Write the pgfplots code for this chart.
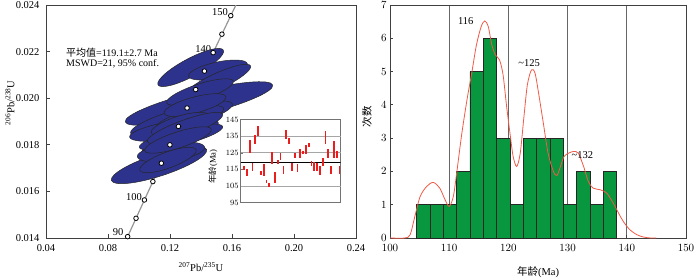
\documentclass[border=0pt]{standalone}
\usepackage{fontspec}
\setmainfont{Liberation Serif}
\newfontfamily\cjk{Noto Sans CJK SC}
\usepackage{pgfplots}
\pgfplotsset{compat=1.18}
\definecolor{ellblue}{RGB}{45,50,140}
\definecolor{histgreen}{RGB}{8,150,62}
\definecolor{pdfred}{RGB}{240,90,70}
\definecolor{barred}{RGB}{235,30,30}
\definecolor{concgray}{RGB}{150,150,150}

\pgfdeclareplotmark{ellmark}{%
  \pgfmathsetmacro\ellax{\ea*cos(\eang)}%
  \pgfmathsetmacro\ellay{\ea*sin(\eang)}%
  \pgfmathsetmacro\ellbx{-\eb*sin(\eang)}%
  \pgfmathsetmacro\ellby{\eb*cos(\eang)}%
  \pgfpathellipse{\pgfpointorigin}{\pgfpoint{\ellax pt}{\ellay pt}}{\pgfpoint{\ellbx pt}{\ellby pt}}%
  \pgfusepathqfillstroke}

\pgfplotsset{
  every tick label/.append style={font=\fontsize{10.5}{12}\selectfont},
  every axis label/.append style={font=\fontsize{10.5}{12}\selectfont},
}

\begin{document}
\begin{tikzpicture}[x=1pt,y=1pt]
\path[use as bounding box] (0,0) rectangle (700,277);

% ---------------- left: concordia ----------------
\begin{axis}[
  at={(46pt,39pt)}, anchor=south west, scale only axis,
  width=310pt, height=233pt,
  xmin=0.04, xmax=0.24, ymin=0.014, ymax=0.024,
  xtick={0.04,0.08,0.12,0.16,0.20,0.24},
  xticklabels={0.04,0.08,0.12,0.16,0.20,0.24},
  ytick={0.014,0.016,0.018,0.020,0.022,0.024},
  yticklabels={0.014,0.016,0.018,0.020,0.022,0.024},
  scaled ticks=false,
  tick pos=left, tick align=inside, major tick length=4pt,
  axis line style={draw=black!75, line width=0.8pt},
  tick style={draw=black!75, line width=0.8pt},
  xticklabel style={yshift=-3pt},
  yticklabel style={xshift=-3pt},
  xlabel={\textsuperscript{207}Pb/\textsuperscript{235}U},
  ylabel={\textsuperscript{206}Pb/\textsuperscript{238}U},
  xlabel style={at={(axis description cs:0.5,-0.124)}, anchor=center},
  ylabel style={at={(axis description cs:-0.116,0.58)}, anchor=center},
]
% error ellipses
\addplot[only marks, mark=ellmark,
  mark options={fill=ellblue, draw=black!85, line width=0.5pt},
  visualization depends on={value \thisrow{a}\as\ea},
  visualization depends on={value \thisrow{b}\as\eb},
  visualization depends on={value \thisrow{ang}\as\eang},
] table {
x y a b ang
0.13871 0.019773 76 12 14
0.11290 0.017133 50 11 18
0.12742 0.019129 53 10 16
0.13335 0.021318 37 9 28
0.15097 0.021210 30 8 12
0.15032 0.020717 37 8 25
0.12548 0.018249 39 9 21
0.12065 0.017691 34 9 8
0.12258 0.018635 45 9 9
0.12710 0.018335 43 8 14
0.13290 0.019150 35 8 16
0.13935 0.020266 35 8 18
0.13613 0.019708 32 8 15
0.11871 0.017348 30 8 20
0.12645 0.018893 30 8 17
0.12968 0.018721 40 8 20
0.12516 0.018206 35 8 18
};
% concordia curve
\addplot[concgray, line width=1.2pt] coordinates {
(0.087316,0.013273) (0.092683,0.014059) (0.098077,0.014846) (0.103498,0.015633)
(0.108945,0.016422) (0.114419,0.017210) (0.119921,0.017999) (0.125449,0.018789)
(0.131005,0.019580) (0.136588,0.020371) (0.142198,0.021163) (0.147837,0.021955)
(0.153503,0.022748) (0.159197,0.023542) (0.164981,0.024336)
};
\addplot[only marks, mark=*, mark size=2.3pt,
  mark options={fill=white, draw=black, line width=0.8pt}] coordinates {
(0.092683,0.014059) (0.098077,0.014846) (0.103498,0.015633)
(0.108945,0.016422) (0.114419,0.017210) (0.119921,0.017999) (0.125449,0.018789)
(0.131005,0.019580) (0.136588,0.020371) (0.142198,0.021163) (0.147837,0.021955)
(0.153503,0.022748) (0.159197,0.023542)
};
\node[font=\fontsize{10.5}{12}\selectfont] at (axis cs:0.0865,0.01426) {90};
\node[font=\fontsize{10.5}{12}\selectfont] at (axis cs:0.0968,0.01576) {100};
\node[font=\fontsize{10.5}{12}\selectfont, text=white] at (axis cs:0.1075,0.01751) {110};
\node[font=\fontsize{10.5}{12}\selectfont, text=white] at (axis cs:0.1187,0.01894) {120};
\node[font=\fontsize{10.5}{12}\selectfont, text=white] at (axis cs:0.1286,0.02065) {130};
\node[font=\fontsize{10.5}{12}\selectfont] at (axis cs:0.1415,0.02212) {140};
\node[font=\fontsize{10.5}{12}\selectfont] at (axis cs:0.1523,0.02369) {150};
\node[anchor=west, inner sep=0pt, font=\fontsize{10}{12}\selectfont] at (axis cs:0.0529,0.021953) {{\cjk 平均值}=119.1±2.7 Ma};
\node[anchor=west, inner sep=0pt, font=\fontsize{10}{12}\selectfont] at (axis cs:0.0529,0.021498) {MSWD=21, 95\% conf.};
\end{axis}

% ---------------- inset ----------------
\begin{axis}[
  at={(240.7pt,74.5pt)}, anchor=south west, scale only axis,
  width=100pt, height=83pt,
  xmin=-0.2, xmax=35.4, ymin=95, ymax=145,
  xtick=\empty,
  ytick={95,105,...,145},
  extra y ticks={105,125,135}, extra y tick labels={},
  extra y tick style={ymajorgrids=true, major tick length=0pt},
  grid style={draw=black!35, line width=0.6pt},
  tick pos=left, tick align=inside, major tick length=2pt,
  axis background/.style={fill=white},
  axis line style={draw=black!55, line width=0.6pt},
  tick style={draw=black!55},
  yticklabel style={font=\fontsize{8.5}{10}\selectfont, xshift=1.5pt},
  ylabel={{\cjk 年龄}(Ma)},
  ylabel style={font=\fontsize{8.5}{10}\selectfont, at={(axis description cs:-0.277,0.43)}, anchor=center},
]
\addplot[black, line width=1.2pt] coordinates {(-0.2,119.1) (35.4,119.1)};
\addplot[draw=none, mark=none,
  error bars/.cd, y dir=both, y explicit, error mark=none,
  error bar style={draw=barred, line width=1.8pt, line cap=butt}]
  table[x=x, y=y, y error=e] {
x y e
1 115.6 1.2
2 112.95 2.25
3 128.9 3.9
4 116.35 2.15
5 132.85 2.75
6 138.05 2.85
7 112.75 1.45
8 114.7 3.6
9 107.65 1.05
10 105.8 1.2
11 121.85 3.55
12 110.0 3.4
13 119.2 1.3
14 122.75 1.85
15 114.45 2.35
16 136.05 2.85
17 131.85 1.75
18 116.55 2.35
19 123.45 1.55
20 115.75 2.55
21 124.45 2.55
22 125.0 1.0
23 126.75 2.75
24 129.9 1.2
25 118.55 1.35
26 116.75 2.55
27 116.55 2.35
28 114.25 2.55
29 119.35 2.55
30 134.2 4.1
31 124.65 2.75
32 114.55 2.25
33 127.0 5.1
34 123.95 2.05
35 114.55 2.25
};
\end{axis}

% ---------------- right: histogram ----------------
\begin{axis}[
  at={(390pt,39pt)}, anchor=south west, scale only axis,
  width=296pt, height=233pt,
  xmin=100, xmax=150, ymin=0, ymax=7,
  xtick={100,110,...,150}, ytick={0,1,...,7},
  xmajorgrids, grid style={draw=black!60, line width=0.8pt},
  tick pos=left, tick align=inside, major tick length=3pt,
  axis line style={draw=black!75, line width=0.8pt},
  tick style={draw=black!75, line width=0.8pt},
  xticklabel style={yshift=-3pt},
  xlabel={{\cjk 年龄}(Ma)},
  ylabel={\cjk 次数},
  xlabel style={at={(axis description cs:0.5,-0.145)}, anchor=center},
  ylabel style={at={(axis description cs:-0.078,0.52)}, anchor=center},
]
\addplot[ybar interval, fill=histgreen, draw=black!85, line width=0.6pt] coordinates {
(104.5,1) (106.75,1) (109,1) (111.25,2) (113.5,5) (115.75,6) (118,3) (120.25,1)
(122.5,3) (124.75,3) (127,3) (129.25,1) (131.5,2) (133.75,1) (136,2) (138.25,2)
};
\addplot[smooth, pdfred, line width=0.8pt] coordinates {
(100,0) (102.5,0) (103.4,0.1) (104.2,0.65) (105.1,1.25) (106.2,1.55) (107.3,1.67)
(108.4,1.5) (109.3,1.15) (110.0,0.95) (110.7,1.25) (111.3,2.0) (112.1,3.1) (113.0,4.15)
(113.8,4.95) (114.6,5.8) (115.4,6.35) (116.0,6.52) (116.6,6.35) (117.2,5.8) (117.8,5.5)
(118.5,5.35) (119.1,4.9) (119.7,3.95) (120.3,3.1) (120.8,2.45) (121.4,2.15) (122.0,2.55)
(122.6,3.6) (123.2,4.6) (123.9,5.05) (124.5,4.95) (125.1,4.35) (125.9,3.45) (126.7,2.55)
(127.6,2.0) (128.2,1.88) (128.8,2.15) (129.4,2.45) (130.2,2.55) (131.0,2.6) (131.8,2.55)
(132.7,2.15) (133.5,1.7) (134.3,1.5) (135.5,1.45) (136.6,1.35) (137.7,1.05) (138.6,0.75)
(139.4,0.5) (140.5,0.25) (141.7,0.1) (142.8,0.03) (144,0) (145,0)
};
\node[font=\fontsize{10.5}{12}\selectfont] at (axis cs:112.8,6.52) {116};
\node[font=\fontsize{10.5}{12}\selectfont] at (axis cs:123.5,5.27) {\textasciitilde125};
\node[font=\fontsize{10.5}{12}\selectfont] at (axis cs:132.5,2.49) {\textasciitilde132};
\node[rotate=90, font=\fontsize{10.5}{12}\selectfont\cjk] at (rel axis cs:1.03,0.5) {相对概率};
\end{axis}
\end{tikzpicture}
\end{document}
